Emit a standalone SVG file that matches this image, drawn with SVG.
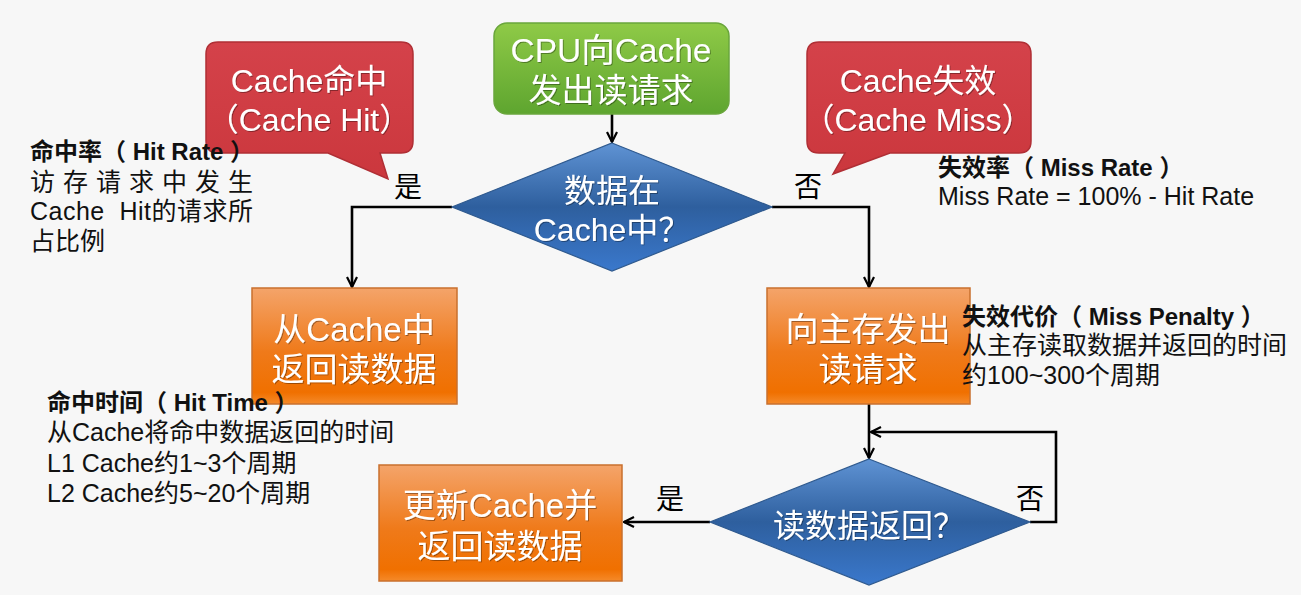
<svg xmlns="http://www.w3.org/2000/svg" width="1301" height="595" viewBox="0 0 1301 595">
<defs>
<linearGradient id="gGreen" x1="0" y1="0" x2="0" y2="1">
<stop offset="0" stop-color="#8fca47"/><stop offset="1" stop-color="#5ea52f"/>
</linearGradient>
<linearGradient id="gOrange" x1="0" y1="0" x2="0" y2="1">
<stop offset="0" stop-color="#f4a46a"/><stop offset="0.55" stop-color="#ef7a1a"/><stop offset="0.9" stop-color="#f07000"/><stop offset="1" stop-color="#f58a2a"/>
</linearGradient>
<linearGradient id="gBlue" x1="0" y1="0" x2="0" y2="1">
<stop offset="0" stop-color="#5f93d4"/><stop offset="0.5" stop-color="#2e5f9e"/><stop offset="1" stop-color="#3a78cc"/>
</linearGradient>
<linearGradient id="gRed" x1="0" y1="0" x2="0" y2="1">
<stop offset="0" stop-color="#d4424a"/><stop offset="1" stop-color="#cb373d"/>
</linearGradient>
<filter id="sh" x="-5%" y="-5%" width="110%" height="120%">
<feOffset in="SourceAlpha" dx="0.6" dy="1" result="o"/>
<feFlood flood-color="#000" flood-opacity="0.35"/>
<feComposite in2="o" operator="in" result="s"/>
<feMerge><feMergeNode in="s"/><feMergeNode in="SourceGraphic"/></feMerge>
</filter>
<marker id="arr" viewBox="0 0 12 12" refX="11" refY="6" markerWidth="12" markerHeight="12" markerUnits="userSpaceOnUse" orient="auto">
<path d="M1,1 L11,6 L1,11" fill="none" stroke="#000" stroke-width="2.2"/>
</marker>
</defs>
<style>
text{font-family:"Liberation Sans","Noto Sans CJK SC",sans-serif;}
.box{font-size:33px;fill:#fff;text-anchor:middle;filter:url(#sh);}
.dec{font-size:32px;fill:#fff;text-anchor:middle;filter:url(#sh);}
.yn{font-size:28px;fill:#000;text-anchor:middle;}
.note{font-size:25px;fill:#111;}
.noteb{font-size:24px;fill:#111;font-weight:bold;}
.conn{fill:none;stroke:#000;stroke-width:2.6;marker-end:url(#arr);}
.orange{fill:url(#gOrange);stroke:#c9702e;stroke-width:1.5;}
.diam{fill:url(#gBlue);stroke:#2f5a8f;stroke-width:1.2;}
.callout{fill:url(#gRed);stroke:#b02f35;stroke-width:1.5;}
</style>
<rect width="1301" height="595" fill="#f7f7f7"/>

<g id="connectors">
<line class="conn" x1="612" y1="114" x2="612" y2="142"/>
<polyline class="conn" points="452,207 352,207 352,287"/>
<polyline class="conn" points="772,207 869,207 869,287"/>
<line class="conn" x1="869" y1="404" x2="869" y2="458"/>
<polyline class="conn" points="1030,522 1056,522 1056,432 871,432"/>
<line class="conn" x1="710" y1="522" x2="624" y2="522"/>
</g>

<g id="start">
<rect x="494" y="23" width="235" height="91" rx="13" fill="url(#gGreen)" stroke="#6aa63c" stroke-width="1.5"/>
<text class="box" x="611" y="62" textLength="201" lengthAdjust="spacingAndGlyphs">CPU向Cache</text>
<text class="box" x="611" y="102">发出读请求</text>
</g>

<g id="decision1">
<polygon class="diam" points="612,143 772,207 612,271 452,207"/>
<text class="dec" x="612" y="202">数据在</text>
<text class="dec" x="612" y="241">Cache中？</text>
</g>

<g id="hitbox">
<rect class="orange" x="252" y="288" width="205" height="116"/>
<text class="box" x="354" y="341">从Cache中</text>
<text class="box" x="354" y="381">返回读数据</text>
</g>

<g id="missbox">
<rect class="orange" x="767" y="288" width="203" height="116"/>
<text class="box" x="868" y="341">向主存发出</text>
<text class="box" x="868" y="381">读请求</text>
</g>

<g id="decision2">
<polygon class="diam" points="869,459 1030,522 869,585 710,522"/>
<text class="dec" x="869" y="537" font-size="31">读数据返回？</text>
</g>

<g id="updatebox">
<rect class="orange" x="379" y="465" width="243" height="116"/>
<text class="box" x="500" y="517">更新Cache并</text>
<text class="box" x="500" y="558">返回读数据</text>
</g>

<g id="callout-hit">
<path class="callout" d="M218,42 H401 Q413,42 413,54 V141 Q413,153 401,153 H380 L388,179 L328,153 H218 Q206,153 206,141 V54 Q206,42 218,42 Z"/>
<text class="dec" x="309" y="92">Cache命中</text>
<text class="dec" x="309" y="131">（Cache Hit）</text>
</g>

<g id="callout-miss">
<path class="callout" d="M819,42 H1019 Q1031,42 1031,54 V141 Q1031,153 1019,153 H890 L833,174 L845,153 H819 Q807,153 807,141 V54 Q807,42 819,42 Z"/>
<text class="dec" x="918" y="92">Cache失效</text>
<text class="dec" x="918" y="131">（Cache Miss）</text>
</g>

<g id="labels">
<text class="yn" x="408" y="197">是</text>
<text class="yn" x="808" y="197">否</text>
<text class="yn" x="670" y="509">是</text>
<text class="yn" x="1030" y="509">否</text>
</g>

<g id="note-hitrate">
<text class="noteb" x="30" y="160">命中率（ Hit Rate ）</text>
<text class="note" x="30" y="191" textLength="223" lengthAdjust="spacing">访存请求中发生</text>
<text class="note" x="30" y="220" xml:space="preserve" textLength="223" lengthAdjust="spacing">Cache  Hit的请求所</text>
<text class="note" x="30" y="250">占比例</text>
</g>

<g id="note-missrate">
<text class="noteb" x="938" y="176">失效率（ Miss Rate ）</text>
<text class="note" x="938" y="205">Miss Rate = 100% - Hit Rate</text>
</g>

<g id="note-penalty">
<text class="noteb" x="962" y="325">失效代价（ Miss Penalty ）</text>
<text class="note" x="962" y="354">从主存读取数据并返回的时间</text>
<text class="note" x="962" y="384">约100~300个周期</text>
</g>

<g id="note-hittime">
<text class="noteb" x="47" y="411">命中时间（ Hit Time ）</text>
<text class="note" x="47" y="441">从Cache将命中数据返回的时间</text>
<text class="note" x="47" y="472">L1 Cache约1~3个周期</text>
<text class="note" x="47" y="502">L2 Cache约5~20个周期</text>
</g>
</svg>
